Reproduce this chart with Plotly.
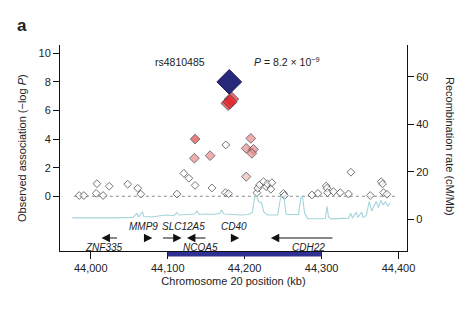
import plotly.graph_objects as go

# --- association results (position in kb, -log10 P, LD class) ---
snp_pos = [43985, 43991, 44008, 44007, 44016, 44024, 44048, 44061, 44065, 44112,
           44121, 44127.5, 44135.6, 44157.5, 44175, 44179, 44175.5, 44216, 44217,
           44219.3, 44224.5, 44228, 44229.6, 44235.4, 44234, 44250.4, 44251.7,
           44287.4, 44295.2, 44306, 44307, 44307.7, 44315.5, 44324.2, 44335,
           44338.1, 44363.2, 44377.5, 44379.2, 44380.5, 44384.9,
           44202, 44134.7, 44155.1, 44208, 44202, 44211.5, 44209.4,
           44135.6, 44178.5, 44183, 44181]
snp_logp = [0.05, 0.05, 0.88, 0.2, 0.05, 0.7, 0.84, 0.56, 0.15, 0.15,
            1.6, 1.26, 0.76, 0.58, 0.25, 0.18, 3.59, 0.25, 0.56,
            0.79, 1.02, 0.67, 0.86, 0.95, 0.49, 0.2, 0.05,
            0.09, 0.2, 0.72, 0.56, 0.25, 0.32, 0.25, 0.16,
            1.68, 0.05, 1.02, 0.86, 0.25, 0.14,
            1.37, 2.66, 2.84, 4.05, 3.35, 3.28, 3.0,
            4.0, 6.5, 6.8, 6.6]
snp_ld = ["none"] * 41 + ["low"] + ["mid"] * 6 + ["high"] + ["top"] * 3

lead_pos = [44180]
lead_logp = [8.0]
lead_name = "rs4810485"

# --- recombination rate (kb, cM/Mb) ---
recomb_pos = [43976, 44000, 44030, 44055, 44060, 44062, 44067, 44069, 44080, 44090,
              44100, 44108, 44112, 44115, 44125, 44135, 44138, 44141, 44150, 44160,
              44168, 44170, 44173, 44185, 44195, 44205, 44210, 44213, 44215, 44218,
              44222, 44225, 44230, 44243, 44246, 44248, 44251, 44254, 44265, 44270,
              44273, 44275, 44278, 44282, 44300, 44305, 44307, 44309, 44312, 44325,
              44335, 44338, 44340, 44345, 44347, 44352, 44354, 44358, 44362, 44365,
              44368, 44371, 44374, 44377, 44380, 44383, 44386, 44389]
recomb_rate = [0.6, 0.5, 0.6, 0.8, 2.5, 0.9, 3.2, 1.2, 1.0, 1.5,
               1.8, 1.5, 2.8, 1.8, 2.0, 2.2, 3.5, 2.0, 2.2, 2.0,
               2.5, 4.0, 2.2, 2.0, 1.8, 2.0, 3.0, 9.0, 10.2, 7.5,
               7.0, 3.0, 1.8, 1.8, 8.0, 10.0, 9.5, 2.0, 1.8, 2.0,
               9.0, 10.0, 2.5, 0.3, 0.2, 0.3, 5.5, 1.0, 0.2, 0.3,
               0.5, 2.5, 0.5, 3.0, 0.8, 3.0, 0.8, 1.5, 7.5, 3.5,
               5.5, 7.5, 5.0, 8.0, 6.0, 7.5, 5.5, 7.0]

# --- genes: name, arrow tip, arrow tail, label x, label row ---
gene_names = ["ZNF335", "MMP9", "SLC12A5", "NCOA5", "CD40", "CDH22"]
gene_tip = [44014, 44080, 44118, 44125, 44193, 44234]
gene_tail = [44036, 44071, 44092, 44151, 44184, 44316]
gene_label_x = [44017, 44069, 44120, 44143, 44185.5, 44283]
gene_label_row = ["below", "above", "above", "below", "above", "below"]

x_ticks = [44000, 44100, 44200, 44300, 44400]
left_ticks = [0, 2, 4, 6, 8, 10]
right_ticks = [0, 20, 40, 60]

ld_fill = {"none": "#ffffff", "low": "#f5bcbc", "mid": "#ec8b8b",
           "high": "#de4a4a", "top": "#e8262e"}
ld_size = {"none": 6, "low": 7, "mid": 7.5, "high": 7.5, "top": 11}

FONT = "Liberation Sans, Arial, Helvetica, sans-serif"

fig = go.Figure()

fig.add_trace(go.Scatter(
    x=recomb_pos, y=recomb_rate, yaxis="y2", mode="lines",
    line=dict(color="#a6d5dc", width=1.1), hoverinfo="skip", showlegend=False))

fig.add_trace(go.Scatter(
    x=snp_pos, y=snp_logp, mode="markers", showlegend=False,
    marker=dict(symbol="diamond",
                size=[ld_size[c] for c in snp_ld],
                color=[ld_fill[c] for c in snp_ld],
                line=dict(color="#3a3a3a", width=1))))

fig.add_trace(go.Scatter(
    x=lead_pos, y=lead_logp, mode="markers", showlegend=False,
    marker=dict(symbol="diamond", size=19, color="#28287a",
                line=dict(color="#1c1c50", width=1))))

annotations = []
# gene arrows and names
for name, tip, tail, lx, row in zip(gene_names, gene_tip, gene_tail,
                                    gene_label_x, gene_label_row):
    annotations.append(dict(
        x=tip, y=-2.92, ax=tail, ay=-2.92, xref="x", yref="y",
        axref="x", ayref="y", text="", showarrow=True,
        arrowhead=2, arrowsize=1.4, arrowwidth=1.2, arrowcolor="#111111"))
    annotations.append(dict(
        x=lx, y=-2.1 if row == "above" else -3.55, xref="x", yref="y",
        text="<i>%s</i>" % name, showarrow=False,
        font=dict(family=FONT, size=10, color="#222222")))

annotations += [
    dict(x=44116, y=9.4, xref="x", yref="y", text=lead_name, showarrow=False,
         font=dict(family=FONT, size=10.5, color="#222222")),
    dict(x=44209, y=9.4, xref="x", yref="y", xanchor="left",
         text="<i>P</i> = 8.2 × 10<sup>−9</sup>", showarrow=False,
         font=dict(family=FONT, size=10.5, color="#222222")),
]

# titles placed by pixel position, converted to paper coordinates
PL, PR, PT, PB = 60, 68, 45, 70
W, H = 475, 321
pw, ph = W - PL - PR, H - PT - PB


def px_note(x, y, text, size, angle=0):
    return dict(x=(x - PL) / pw, y=(H - PB - y) / ph, xref="paper",
                yref="paper", xanchor="center", yanchor="middle",
                showarrow=False, text=text, textangle=angle,
                font=dict(family=FONT, size=size, color="#222222"))


annotations += [
    px_note(22, 148, "Observed association (−log <i>P</i>)", 11, -90),
    px_note(450, 146, "Recombination rate (cM/Mb)", 11, 90),
    px_note(22, 25, "<b>a</b>", 17),
]

shapes = [
    # dotted baseline at -log P = 0
    dict(type="line", xref="x", yref="y", x0=43978, x1=44396, y0=0, y1=0,
         line=dict(color="#8a8a8a", width=1, dash="dot"), layer="below"),
    # associated interval bar under the axis
    dict(type="rect", xref="x", yref="paper", x0=44100, x1=44300,
         y0=-5.5 / ph, y1=-1.0 / ph, fillcolor="#2e3192",
         line=dict(width=0), layer="above"),
]

axis_font = dict(family=FONT, size=11, color="#222222")

fig.update_layout(
    width=W, height=H,
    margin=dict(l=PL, r=PR, t=PT, b=PB, autoexpand=False),
    paper_bgcolor="white", plot_bgcolor="white",
    font=dict(family=FONT),
    annotations=annotations, shapes=shapes,
    xaxis=dict(range=[43960, 44411], tickvals=x_ticks, tickformat=",d",
               ticks="outside", ticklen=7, tickcolor="#111111",
               showline=True, linecolor="#111111", linewidth=1,
               showgrid=False, zeroline=False, tickfont=axis_font,
               automargin=False,
               title=dict(text="Chromosome 20 position (kb)",
                          font=dict(family=FONT, size=11, color="#222222"),
                          standoff=4)),
    yaxis=dict(range=[-3.83, 10.58], tickvals=left_ticks,
               ticks="outside", ticklen=6, tickcolor="#111111",
               showline=True, linecolor="#111111", linewidth=1,
               showgrid=False, zeroline=False, tickfont=axis_font,
               automargin=False),
    yaxis2=dict(range=[-13.35, 73.4], tickvals=right_ticks, side="right",
                overlaying="y", ticks="outside", ticklen=6,
                tickcolor="#111111", showline=True, linecolor="#111111",
                linewidth=1, showgrid=False, zeroline=False,
                tickfont=axis_font, automargin=False),
)

fig.write_html("out.html")
